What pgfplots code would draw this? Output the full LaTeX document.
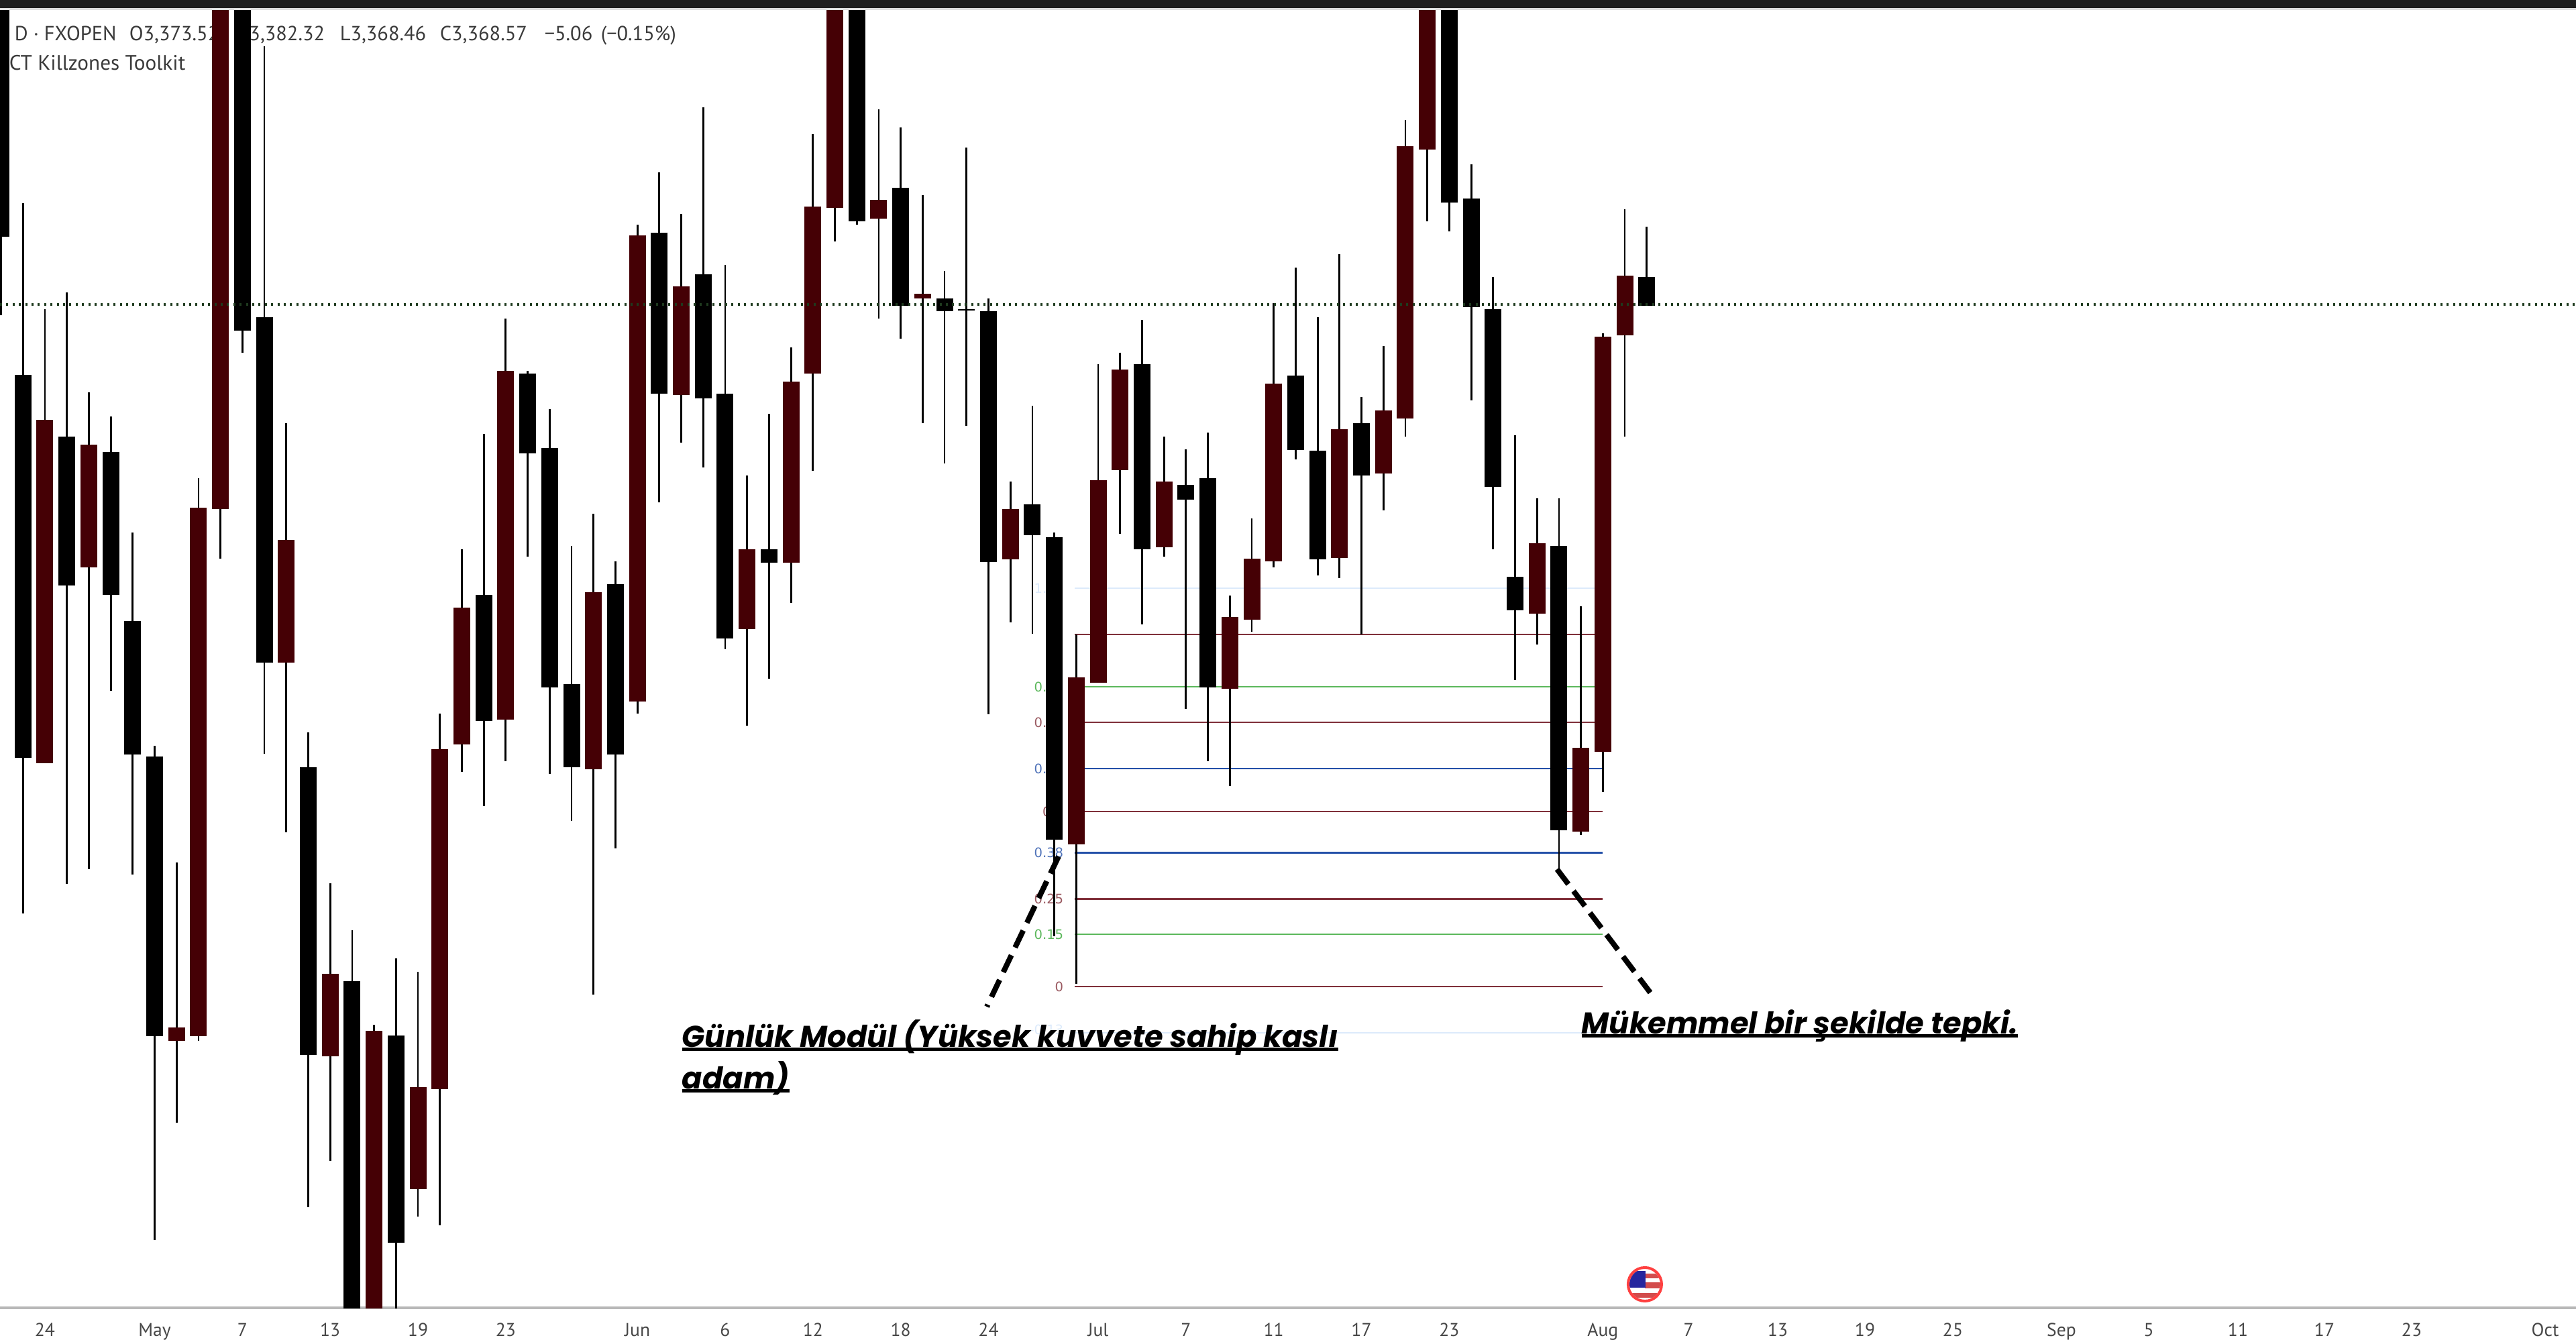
\documentclass[border=0pt]{standalone}
\usepackage{pgfplots}
\usepackage{pgfplotstable}
\usepackage{fontspec}
\pgfplotsset{compat=1.18}
\setmainfont{PT Sans}
\newfontfamily\fibfont{DejaVu Sans}
\newfontfamily\annfont{Poppins}
\definecolor{maroonc}{HTML}{450005}
\definecolor{fibred}{HTML}{80303A}
\definecolor{fibgreen}{HTML}{5CB85C}
\definecolor{fibblue}{HTML}{2450A8}
\definecolor{fiblight}{HTML}{DCEAFB}
\definecolor{legtext}{HTML}{3A3A3A}
\definecolor{lastprice}{HTML}{1E3A1E}
\newcommand\ulin[1]{\setbox0\hbox{#1}\rlap{\rule[-1.5bp]{\wd0}{1.15bp}}\box0}
% x (px) bodytop bodybot high low
\pgfplotstableread{
x top bot high low
1.5 0 352.5 0 470
34.2 559 1130 303 1362
99.6 651 873 436 1318
165.1 674 887 621 1030
197.8 926 1125 794 1304
230.5 1128 1545 1112 1848.5
361.3 0 493 0 525.6
394.0 473 988 68.5 1124
459.4 1144 1573 1092 1800
524.9 1463 2000 1387 2000
590.3 1544 1853 1429 2000
721.1 887 1075 647 1202
786.5 557 676 553 830
819.3 668 1025 610 1154
852.0 1020 1144 814 1224
917.4 871 1125 837 1265
982.8 346.5 587 257 749
1048.2 408.5 594 160 697
1080.9 587 951.5 395 967.5
1146.4 819 839 617 1012
1277.2 0 330 0 335
1342.6 280 456 190 505
1408.0 445 463.6 404 691
1440.7 461 463 220 635
1473.5 463.6 838 445 1065
1538.9 752 797.5 605 944.5
1571.6 801 1251.5 794 1396
1702.4 543 819 477 931
1767.8 722.5 745 670 1057
1800.6 713 1025 645 1135
1931.4 560 671 399 685
1964.1 672 834 473 858
2029.5 631 708.6 592 946
2160.4 0 302 0 345
2193.1 296 458 245 597
2225.8 461 726 413 819
2258.5 860 910 649 1013.5
2323.9 814 1238 743 1296
2454.8 413 456 338 456
}\blackcandles
\pgfplotstableread{
x top bot high low
66.9 626 1137.5 461 1137.5
132.3 663 846 585 1296
263.2 1532 1552 1286 1674
295.9 757 1545 713 1552
328.6 0 759 0 833
426.7 805 988 631 1241
492.2 1452 1575 1317 1731
557.6 1537 2000 1528 2000
623.0 1621 1773 1449 1814
655.7 1117 1624 1064 1827
688.4 906 1110 819 1151
753.8 553 1073 475 1135
884.7 883 1147 766 1483
950.1 351 1046 335 1064
1015.5 427 589 319 660
1113.6 819 938 709 1082
1179.1 569 839 518 899
1211.8 307.5 557 200 702
1244.5 0 310 0 360
1309.9 298 326 163 475
1375.3 438 445 291 631
1506.2 759 834 718 928
1604.3 1010 1258.5 946 1467
1637.0 716 1018 543 1018
1669.7 551 701 525.6 796
1735.1 718 816 651 830
1833.3 920 1027 888 1172
1866.0 833 924 773 942
1898.7 571.5 836.5 452 846
1996.8 640 832 378.6 862
2062.2 612 706 516 761
2094.9 218 624 179 651
2127.7 0 222.5 0 330
2291.2 810 915 743 961
2356.6 1115 1240 904 1245
2389.3 502 1121 496.5 1181
2422.0 411 500 312 651
}\marooncandles
\pgfplotsset{
 wick/.style={draw=none,mark=none,forget plot,error bars/.cd,y dir=plus,y explicit,error mark=none,
   error bar style={draw=black,solid,line width=0.7bp}},
 body/.style={draw=none,mark=none,forget plot,error bars/.cd,y dir=plus,y explicit,error mark=none,
   error bar style={draw=#1,solid,line width=6.25bp}},
}
\begin{document}
\begin{tikzpicture}
\path[use as bounding box] (0,0) rectangle (960bp,-500.25bp);
\begin{axis}[
  at={(0bp,-487.5bp)},anchor=south west,
  scale only axis,width=960bp,height=487.5bp,
  xmin=0,xmax=3840,ymin=0,ymax=1950,y dir=reverse,
  axis y line=none,axis x line=bottom,
  x axis line style={draw=black!28,line width=0.8bp,-},
  major tick length=0pt,
  xtick={66.9,230.5,361.3,492.2,623,753.8,950.1,1080.9,1211.8,1342.6,1473.5,1637,1767.8,1898.7,2029.5,2160.4,2389.3,2517,2650,2780,2911,3073,3203,3336,3465,3595,3794},
  xticklabels={24,May,7,13,19,23,Jun,6,12,18,24,Jul,7,11,17,23,Aug,7,13,19,25,Sep,5,11,17,23,Oct},
  xticklabel style={font=\fontsize{6.9bp}{8bp}\selectfont,text=black!72,anchor=base,yshift=-10.5bp},
  clip=true,
]
% chart legend, behind the candles
\node[anchor=base west,text=legtext,font=\fontsize{7.6bp}{9bp}\selectfont,inner sep=0] at (axis cs:21,60) {D · FXOPEN};
\node[anchor=base west,text=legtext,font=\fontsize{7.6bp}{9bp}\selectfont,inner sep=0] at (axis cs:192,60) {O3,373.52};
\node[anchor=base east,text=legtext,font=\fontsize{7.6bp}{9bp}\selectfont,inner sep=0] at (axis cs:485,60) {H3,382.32};
\node[anchor=base west,text=legtext,font=\fontsize{7.6bp}{9bp}\selectfont,inner sep=0] at (axis cs:506,60) {L3,368.46};
\node[anchor=base west,text=legtext,font=\fontsize{7.6bp}{9bp}\selectfont,inner sep=0] at (axis cs:655,60) {C3,368.57};
\node[anchor=base west,text=legtext,font=\fontsize{7.6bp}{9bp}\selectfont,inner sep=0] at (axis cs:811,60) {−5.06};
\node[anchor=base west,text=legtext,font=\fontsize{7.6bp}{9bp}\selectfont,inner sep=0] at (axis cs:895,60) {(−0.15\%)};
\node[anchor=base west,text=legtext,font=\fontsize{7.8bp}{9bp}\selectfont,inner sep=0] at (axis cs:13,104) {CT Killzones Toolkit};
% fib levels
\addplot[fiblight,line width=0.7bp,forget plot] coordinates {(1602,877)(2389,877)};
\addplot[fibred,line width=0.7bp,forget plot] coordinates {(1602,946)(2389,946)};
\addplot[fibgreen,line width=0.7bp,forget plot] coordinates {(1602,1024)(2389,1024)};
\addplot[fibred,line width=0.7bp,forget plot] coordinates {(1602,1077)(2389,1077)};
\addplot[fibblue,line width=0.7bp,forget plot] coordinates {(1602,1146)(2389,1146)};
\addplot[fibred,line width=0.7bp,forget plot] coordinates {(1602,1210)(2389,1210)};
\addplot[fibblue,line width=0.7bp,forget plot] coordinates {(1602,1271.5)(2389,1271.5)};
\addplot[fibred,line width=0.7bp,forget plot] coordinates {(1602,1340.5)(2389,1340.5)};
\addplot[fibgreen,line width=0.7bp,forget plot] coordinates {(1602,1393)(2389,1393)};
\addplot[fibred,line width=0.7bp,forget plot] coordinates {(1602,1471)(2389,1471)};
\addplot[fiblight,line width=0.7bp,forget plot] coordinates {(1602,1540)(2389,1540)};
\tikzset{fib/.style={anchor=east,inner sep=0,font=\fibfont\fontsize{4.9bp}{5bp}\selectfont}}
\node[fib,text=fiblight] at (axis cs:1586,877) {1.13};
\node[fib,text=fibred!80] at (axis cs:1586,946) {1};
\node[fib,text=fibgreen] at (axis cs:1586,1024) {0.85};
\node[fib,text=fibred!80] at (axis cs:1586,1077) {0.75};
\node[fib,text=fibblue!80] at (axis cs:1586,1146) {0.62};
\node[fib,text=fibred!80] at (axis cs:1586,1210) {0.5};
\node[fib,text=fibblue!80] at (axis cs:1586,1271.5) {0.38};
\node[fib,text=fibred!80] at (axis cs:1586,1340.5) {0.25};
\node[fib,text=fibgreen] at (axis cs:1586,1393) {0.15};
\node[fib,text=fibred!80] at (axis cs:1586,1471) {0};
\node[fib,text=fiblight] at (axis cs:1586,1535) {-0.13};
% candles
\addplot[wick] table[x=x,y=high,y error plus expr=\thisrow{low}-\thisrow{high}] {\blackcandles};
\addplot[wick] table[x=x,y=high,y error plus expr=\thisrow{low}-\thisrow{high}] {\marooncandles};
\addplot[body=black] table[x=x,y=top,y error plus expr=\thisrow{bot}-\thisrow{top}] {\blackcandles};
\addplot[body=maroonc] table[x=x,y=top,y error plus expr=\thisrow{bot}-\thisrow{top}] {\marooncandles};
% last price line
\addplot[color=lastprice,line width=0.85bp,dash pattern=on 0.75bp off 1.6bp,forget plot] coordinates {(0,454)(3840,454)};
% callout lines
\addplot[black,line width=2bp,dash pattern=on 7bp off 3.2bp,forget plot] coordinates {(1578,1277)(1471,1501)};
\addplot[black,line width=2bp,dash pattern=on 7bp off 3.2bp,forget plot] coordinates {(2321,1296)(2460,1480)};
% annotations
\node[anchor=base west,inner sep=0,font=\annfont\bfseries\itshape\fontsize{11.2bp}{13bp}\selectfont] at (axis cs:1016,1561) {\ulin{Günlük Modül (Yüksek kuvvete sahip kaslı}};
\node[anchor=base west,inner sep=0,font=\annfont\bfseries\itshape\fontsize{11.2bp}{13bp}\selectfont] at (axis cs:1016,1623) {\ulin{adam)}};
\node[anchor=base west,inner sep=0,font=\annfont\bfseries\itshape\fontsize{11.2bp}{13bp}\selectfont] at (axis cs:2357,1541) {\ulin{Mükemmel bir şekilde tepki.}};
\end{axis}
\begin{scope}[x=0.25bp,y=-0.25bp]
% top bar
\fill[black!12] (0,12) rectangle (3840,15);
\fill[black!88] (0,0) rectangle (3840,12);
% flag icon
\fill[white] (2452,1915) circle (27);
\begin{scope}
\clip (2452,1915) circle (23);
\fill[red!75!black!70!white] (2452,1899) rectangle (2476,1906);
\fill[red!75!black!70!white] (2452,1912) rectangle (2476,1921);
\fill[red!75!black!70!white] (2428,1928) rectangle (2476,1935);
\fill[blue!55!black!85!white] (2428,1895) rectangle (2453,1920);
\end{scope}
\draw[color=red!75!white,line width=1bp] (2452,1915) circle (25);
\end{scope}
\end{tikzpicture}
\end{document}
